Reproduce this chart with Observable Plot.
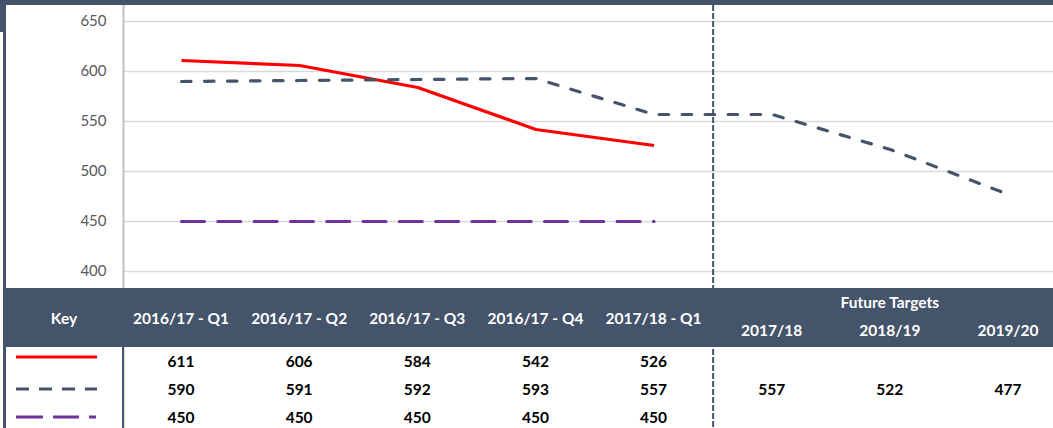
<!DOCTYPE html>
<html><head><meta charset="utf-8">
<script src="https://cdn.jsdelivr.net/npm/d3@7"></script>
<script src="https://cdn.jsdelivr.net/npm/@observablehq/plot@0.6"></script>
<style>
html,body{margin:0;padding:0;background:#fff;}
#wrap{position:relative;width:1053px;height:428px;overflow:hidden;font-family:Lato,"Open Sans",sans-serif;}
.bar{position:absolute;background:#44546a;}
.lbl{position:absolute;width:140px;text-align:center;line-height:20px;height:20px;font-weight:bold;font-size:15.5px;white-space:nowrap;}
.hd{color:#fff;}
.num{color:#000;}
</style></head>
<body>
<div id="wrap"></div>
<script>
// ---- data ----
const periods = ["2016/17 - Q1","2016/17 - Q2","2016/17 - Q3","2016/17 - Q4","2017/18 - Q1"];
const futureYears = ["2017/18","2018/19","2019/20"];
const actual = [611,606,584,542,526];
const target = [590,591,592,593,557,557,522,477];
const benchmark = [450,450,450,450,450];
const yTicks = [400,450,500,550,600,650];
const futureTitle = "Future Targets";
const keyTitle = "Key";

const slate = "#44546a";
const series = [
  {name:"actual", values: actual, color:"#ff0000", dash:null, width:3.2},
  {name:"target", values: target, color: slate, dash:"9.5,13.5", width:3.2},
  {name:"benchmark", values: benchmark, color:"#7030a0", dash:"23,13.3", width:3}
];
const rows = [];
series.forEach(s => s.values.forEach((v,i) => rows.push({series:s.name, i, v})));

const wrap = document.getElementById("wrap");

const chart = Plot.plot({
  width: 1053, height: 428,
  marginLeft: 123, marginRight: 0, marginTop: 5, marginBottom: 0,
  style: {fontFamily: "Lato, 'Open Sans', sans-serif", fontSize: "15px", background: "transparent", overflow: "visible"},
  x: {domain: [0, 7], range: [181, 1008], axis: null, label: null},
  y: {domain: [400, 650], range: [271, 21], axis: null, label: null},
  marks: [
    Plot.gridY(yTicks, {stroke: "#d9d9d9", strokeOpacity: 1, strokeWidth: 1.3}),
    Plot.frame({anchor: "left", stroke: "#bfbfbf", strokeWidth: 2}),
    Plot.axisY(yTicks, {tickSize: 0, tickPadding: 17, color: "#595959", fontSize: 15, label: null}),
    Plot.ruleX([periods.length - 0.5], {stroke: slate, strokeWidth: 2, strokeDasharray: "6,2"}),
    ...series.map(s => Plot.line(rows.filter(r => r.series === s.name), {
      x: "i", y: "v", stroke: s.color, strokeWidth: s.width,
      strokeDasharray: s.dash, strokeLinecap: s.dash ? "round" : "butt", strokeLinejoin: "round"
    }))
  ]
});
chart.style.position = "absolute";
chart.style.left = "0px";
chart.style.top = "0px";
wrap.appendChild(chart);

const xs = chart.scale("x");
const cx = i => xs.apply(i);

function box(l,t,w,h){const d=document.createElement("div");d.className="bar";Object.assign(d.style,{left:l+"px",top:t+"px",width:w+"px",height:h+"px"});wrap.appendChild(d);return d;}
function label(text, x, y, cls){const d=document.createElement("div");d.className="lbl "+cls;d.textContent=text;d.style.left=(x-70)+"px";d.style.top=(y-10)+"px";wrap.appendChild(d);return d;}

// frame bars
box(0,0,1053,5);
box(0,0,6,32);
box(3,0,3,428);
// header
box(3,288,1050,59);
// body column divider
box(122,347,2,81);

const keyCx = 64;
label(keyTitle, keyCx, 318, "hd");
periods.forEach((p,i) => label(p, cx(i), 318, "hd"));
label(futureTitle, cx(periods.length + 1), 302, "hd");
futureYears.forEach((p,j) => label(p, cx(periods.length + j), 330, "hd"));

const rowY = [361, 389, 417];
series.forEach((s,k) => {
  s.values.forEach((v,i) => label(String(v), cx(i), rowY[k], "num"));
});

// key swatches
const ns = "http://www.w3.org/2000/svg";
const key = document.createElementNS(ns, "svg");
key.setAttribute("width", 118); key.setAttribute("height", 81);
Object.assign(key.style, {position:"absolute", left:"5px", top:"347px"});
const keyDash = [null, "13,10", "27,10,26,10,7,40"];
series.forEach((s,k) => {
  const l = document.createElementNS(ns, "line");
  l.setAttribute("x1", 11); l.setAttribute("x2", 92);
  const yy = rowY[k] - 347 + (k === 0 ? -4 : 0);
  l.setAttribute("y1", yy); l.setAttribute("y2", yy);
  l.setAttribute("stroke", s.color); l.setAttribute("stroke-width", 3);
  if (keyDash[k]) l.setAttribute("stroke-dasharray", keyDash[k]);
  key.appendChild(l);
});
wrap.appendChild(key);
</script>
</body></html>
